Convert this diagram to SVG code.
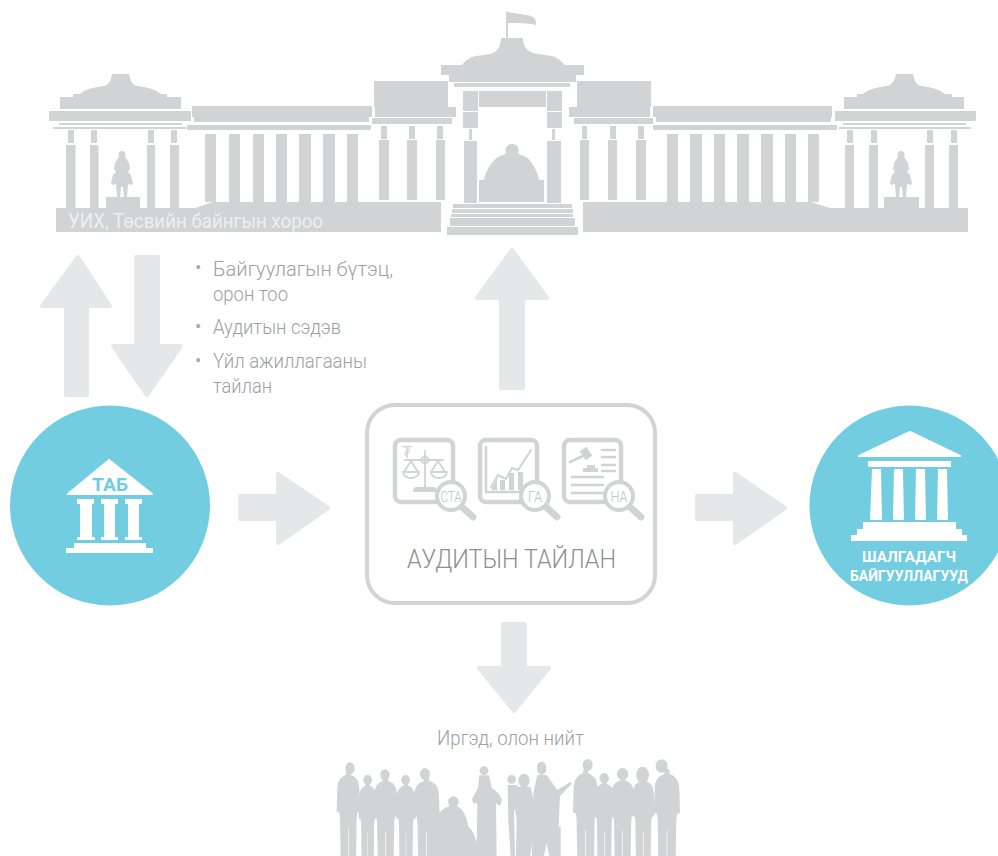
<svg xmlns="http://www.w3.org/2000/svg" xmlns:xlink="http://www.w3.org/1999/xlink" width="998" height="856" viewBox="0 0 998 856">
<style>
text{font-family:Roboto,"Liberation Sans","DejaVu Sans",sans-serif}
.g{fill:#d1d3d4}
.arrow{fill:#e6e7e8;stroke:#e6e7e8;stroke-width:4;stroke-linejoin:round}
.circ{fill:#72cde0}
.w{fill:#fff}
.t{font-weight:300;font-size:19.5px;fill:#9d9fa2}
.b{font-weight:400;font-size:19px;fill:#a7a9ac}
.ws{font-weight:700;font-size:14.5px;fill:#fff;text-anchor:middle}
.ic{fill:none;stroke:#d1d3d4;stroke-width:4.5}
.ln{fill:none;stroke:#d1d3d4;stroke-width:2.5;stroke-linecap:round}
.mg{fill:#fff;stroke:#d1d3d4;stroke-width:4}
.hd{fill:none;stroke:#d1d3d4;stroke-width:7;stroke-linecap:round}
.mt{font-weight:300;font-size:15px;fill:#bcbec0;text-anchor:middle}
</style>
<defs>
<g id="statue" class="g">
<circle cx="0" cy="154.500" r="3.500"/>
<path d="M-3,157 L3,157 L7,163 L8,169 L6,172 L9,175 L11,183 L10,185 L6,184 L5,197 L2,197 L1,187 L-1,187 L-2,197 L-5,197 L-6,184 L-10,185 L-11,183 L-9,175 L-6,172 L-8,169 L-7,163Z"/>
</g>
<path id="person" d="M-6,-24 L-8,-8 C-25,-2 -35,10 -36,40 L-38,115 L-29,118 L-27,140 L-25,280 L-1,280 L-1,170 L1,170 L1,280 L25,280 L27,140 L29,118 L38,115 L36,40 C35,10 25,-2 8,-8 L6,-24Z"/>
</defs>

<g id="palace" class="g">
<path d="M60,109V97H73V94H80C86,89 95,87 104,86C109,85 111,80 112,74H129C130,80 132,85 137,86C146,87 155,89 161,94H167V97H181V109Z"/>
<rect x="49" y="111" width="142" height="10"/>
<rect x="59" y="123" width="123" height="2"/>
<rect x="53" y="127" width="133" height="2"/>
<path d="M68,130h6v13h-6zM91,130h6v13h-6zM148,130h6v13h-6zM171,130h6v13h-6z"/>
<path d="M66,145h9.500v63h-9.500zM90,145h8.500v63h-8.500zM147,145h8v63h-8zM170,145h9v63h-9z"/>
<use xlink:href="#statue" href="#statue" x="122"/>
<rect x="106" y="197" width="34" height="11"/>
<path d="M56,208H195L213,202H441V232H56Z"/>
<path d="M192,106H372V117H369V122H194V117H192Z"/>
<rect x="187" y="125" width="184" height="5"/>
<path d="M205,134h11v68h-11zM229,134h11v68h-11zM253,134h11v68h-11zM276,134h11v68h-11zM299,134h12v68h-12zM323,134h12v68h-12zM347,134h11v68h-11z"/>
<path d="M374,81H448V107H456V117H375V107H374Z"/>
<rect x="372" y="118" width="80" height="6"/>
<path d="M381,126h6v13h-6zM409,126h6v13h-6zM437,126h6v13h-6z"/>
<path d="M379,140h10v60h-10zM407,140h10v60h-10zM436,140h9v60h-9z"/>
<path d="M506,38V11L508,12C516,14 528,14 533,17C536,19 536,22 536,25C527,23 516,23 508,23V38H523C523,44 525,50 533,53C543,55 552,55 557,58C560,60 562,62 565,65H584V75H576V82H449V75H441V65H462C465,61 468,59 472,57C480,55 488,55 493,53C499,50 501,44 501,38Z"/>
<rect x="454" y="83" width="116" height="4"/>
<path d="M463,91h15v20h-15zM463,112h15v16h-15zM547,91h15v20h-15zM547,112h15v16h-15zM479,91h67v16h-67z"/>
<path d="M469,129h3v11h-3zM552,129h3v11h-3z"/>
<path d="M464,141h13v62h-13zM547,141h14v62h-14z"/>
<path d="M479,180H484C486,170 492,161 498,157C502,155 505,155 506,153C504,147 508,144 512,144C516,144 520,147 518,153C519,155 522,155 526,157C532,161 537,170 539,180H544V202H479Z"/>
<path d="M453,204h119v4h-119zM452,209h121v4h-121zM451,214h122v3h-122zM450,218h125v8h-125zM447,227h131v8h-131z"/>
<path d="M577,81H651V107H650V117H569V107H577Z"/>
<rect x="574" y="118" width="79" height="6"/>
<path d="M582,126h5v13h-5zM610,126h6v13h-6zM638,126h6v13h-6z"/>
<path d="M580,140h9v60h-9zM608,140h9v60h-9zM636,140h10v60h-10z"/>
<path d="M653,106H832V117H831V122H656V117H653Z"/>
<rect x="653" y="125" width="184" height="5"/>
<path d="M667,134h11v68h-11zM690,134h12v68h-12zM714,134h11v68h-11zM737,134h12v68h-12zM761,134h12v68h-12zM785,134h11v68h-11zM808,134h11v68h-11z"/>
<path d="M583,202H811L830,208H968V232H583Z"/>
<path d="M844,109V97H857V94H863C869,89 878,87 887,86C892,85 895,80 896,74H913C914,80 916,85 921,86C930,87 939,89 945,94H952V97H964V109Z"/>
<rect x="835" y="111" width="141" height="10"/>
<rect x="843" y="123" width="123" height="2"/>
<rect x="839" y="127" width="132" height="2"/>
<path d="M847,130h6v13h-6zM871,130h6v13h-6zM927,130h6v13h-6zM951,130h6v13h-6z"/>
<path d="M845,145h9v63h-9zM869,145h9v63h-9zM925,145h9v63h-9zM949,145h9v63h-9z"/>
<use xlink:href="#statue" href="#statue" x="901"/>
<rect x="884" y="197" width="35" height="11"/>
</g>
<text x="68" y="228" font-size="20" font-weight="400" fill="#eeeff0" textLength="255" lengthAdjust="spacingAndGlyphs">УИХ, Төсвийн байнгын хороо</text>

<g id="connectors">
<path class="arrow" d="M78,257L110,306H87V395H66V306H42Z"/>
<path class="arrow" d="M136,257H158V346H181L147,395L113,346H136Z"/>
<path class="arrow" d="M512,250L547,298H523V388H501V298H477Z"/>
<path class="arrow" d="M240,496H278V474L328,508L278,543V519H240Z"/>
<path class="arrow" d="M697,496H735V474L785,508L735,543V519H697Z"/>
<path class="arrow" d="M503,624H525V668H549L514,711L479,668H503Z"/>
</g>

<g id="bullets">
<text class="b" x="195" y="274">•</text>
<text class="t" x="213" y="276" textLength="180" lengthAdjust="spacingAndGlyphs">Байгуулагын бүтэц,</text>
<text class="t" x="213" y="301" textLength="75" lengthAdjust="spacingAndGlyphs">орон тоо</text>
<text class="b" x="195" y="333">•</text>
<text class="t" x="213" y="334" textLength="128" lengthAdjust="spacingAndGlyphs">Аудитын сэдэв</text>
<text class="b" x="195" y="367">•</text>
<text class="t" x="213" y="368" textLength="154" lengthAdjust="spacingAndGlyphs">Үйл ажиллагааны</text>
<text class="t" x="213" y="393" textLength="59" lengthAdjust="spacingAndGlyphs">тайлан</text>
</g>

<g id="tab">
<circle class="circ" cx="110" cy="505.500" r="100"/>
<path class="w" stroke="#fff" stroke-width="2" stroke-linejoin="round" d="M109,460L152,494H68Z"/>
<text x="110" y="491" font-size="18" font-weight="700" fill="#72cde0" text-anchor="middle" textLength="36" lengthAdjust="spacingAndGlyphs">ТАБ</text>
<g class="w">
<path d="M77,499h17v5h-2v33h3v3h-18v-3h3v-33h-3zM101,499h17v5h-3v33h3v3h-17v-3h3v-33h-3zM125,499h17v5h-3v33h3v3h-17v-3h3v-33h-3z"/>
<path d="M74,543h72v5h7v5h-87v-5h8z"/>
</g>
</g>

<g id="audit">
<rect x="367" y="405" width="288" height="198" rx="28" fill="#fff" stroke="#d1d3d4" stroke-width="4"/>
<rect class="ic" x="395" y="440" width="58" height="62" rx="6"/>
<rect class="ic" x="480" y="440" width="57" height="62" rx="6"/>
<rect class="ic" x="564" y="440" width="57" height="62" rx="6"/>
<text x="407" y="458" font-size="15" fill="#d1d3d4" text-anchor="middle" style="font-family:'DejaVu Sans',sans-serif">₮</text>
<g class="ln" style="stroke-width:1.800">
<path d="M425,451V488M405,460H443M411,461L404,472M411,461L418,472M438,461L431,472M438,461L445,472"/>
<path d="M403,472H419A8,6 0 0 1 403,472ZM431,472H447A8,6 0 0 1 431,472Z"/>
<circle cx="425" cy="460" r="3.500"/>
</g>
<path class="g" d="M416,487H434C436,487 437,489 437,492H413C413,489 414,487 416,487Z"/>
<path class="ln" d="M486,447V492H530"/>
<path class="ln" d="M491,487L498,475L506,479L512,468L518,470L531,450" style="stroke-width:2"/>
<path class="g" d="M500,480h5v10h-5zM509,473h5v17h-5zM518,472h5v18h-5zM491,490L497,478V490Z"/>
<path class="ln" d="M570,462L585,455" style="stroke-width:3"/>
<path class="ln" d="M583,449L589,458" style="stroke-width:8;stroke-linecap:butt"/>
<path class="g" d="M587,465h8v3h-8zM583,468h15v4h-15z"/>
<path class="ln" d="M602,450H615M602,457H615M602,465H615M602,471H615M572,477H603M572,485H603M572,493H603"/>
<path class="hd" d="M462,507L473,517M546,507L557,517M630,507L641,517"/>
<circle class="mg" cx="451" cy="496" r="14"/>
<circle class="mg" cx="535" cy="496" r="14"/>
<circle class="mg" cx="619" cy="496" r="14"/>
<text class="mt" x="451" y="501.500" textLength="21" lengthAdjust="spacingAndGlyphs">СТА</text>
<text class="mt" x="535" y="501.500" textLength="14" lengthAdjust="spacingAndGlyphs">ГА</text>
<text class="mt" x="619" y="501.500" textLength="17" lengthAdjust="spacingAndGlyphs">НА</text>
<text x="407" y="568" font-size="25" font-weight="300" fill="#8d8f92" textLength="209" lengthAdjust="spacingAndGlyphs">АУДИТЫН ТАЙЛАН</text>
</g>

<g id="auditees">
<circle class="circ" cx="909.500" cy="505.500" r="100"/>
<g class="w">
<path stroke="#fff" stroke-width="2" stroke-linejoin="round" d="M910,432L960,456H859Z"/>
<rect x="868" y="461" width="83" height="6"/>
<path d="M872,469h9l1,51h-12zM894,469h9l1,51h-11zM916,469h9l1,51h-11zM938,469h9l1,51h-11z"/>
<path d="M863,522h93v7h6v6h5v6h-116v-6h6v-6h6z"/>
</g>
<text class="ws" x="909" y="562" textLength="94" lengthAdjust="spacingAndGlyphs">ШАЛГАДАГЧ</text>
<text class="ws" x="909" y="581" textLength="118" lengthAdjust="spacingAndGlyphs">БАЙГУУЛЛАГУУД</text>
</g>

<text class="t" x="437" y="745" textLength="147" lengthAdjust="spacingAndGlyphs">Иргэд, олон нийт</text>

<g id="citizens" class="g" transform="translate(320 720) scale(.3333)">
<ellipse cx="90" cy="145" rx="14" ry="18"/><use href="#person" xlink:href="#person" transform="translate(85 172) scale(.92 .9)"/>
<ellipse cx="143" cy="180" rx="13" ry="15"/><use href="#person" xlink:href="#person" transform="translate(143 203) scale(.72 .8)"/>
<ellipse cx="195" cy="165" rx="14" ry="17"/><use href="#person" xlink:href="#person" transform="translate(197 190) scale(.95 .85)"/>
<ellipse cx="257" cy="180" rx="13" ry="15"/><use href="#person" xlink:href="#person" transform="translate(258 203) scale(.78 .8)"/>
<ellipse cx="315" cy="162" rx="15" ry="18"/><use href="#person" xlink:href="#person" transform="translate(320 190) scale(1.02 .85)"/>
<circle cx="400" cy="245" r="16"/><path d="M345,408V290C365,270 385,255 400,255C425,258 440,285 445,320C462,330 475,370 475,408Z"/>
<circle cx="492" cy="152" r="13"/><path d="M478,166H507L516,205C530,212 540,225 546,240L540,258L528,250L530,408H470L472,250L460,250L456,238C462,225 470,212 474,205Z"/>
<circle cx="575" cy="178" r="13"/><path d="M563,195H592L598,260L582,270L585,408H572L565,300Z"/>
<ellipse cx="612" cy="182" rx="17" ry="21"/><path d="M592,200H632L650,290L645,330L630,408H588L590,300L578,220Z"/>
<ellipse cx="665" cy="145" rx="14" ry="20"/><path d="M652,165H680L712,210L752,185L755,192L720,228L716,320H722L722,408H688L680,370L672,408H636L640,220Z"/>
<ellipse cx="803" cy="135" rx="15" ry="18"/><use href="#person" xlink:href="#person" transform="translate(797 168) scale(1 .95)"/>
<ellipse cx="853" cy="175" rx="14" ry="16"/><use href="#person" xlink:href="#person" transform="translate(853 198) scale(.82 .8)"/>
<ellipse cx="908" cy="162" rx="17" ry="18"/><use href="#person" xlink:href="#person" transform="translate(908 188) scale(.95 .85)"/>
<ellipse cx="968" cy="165" rx="19" ry="25"/><use href="#person" xlink:href="#person" transform="translate(970 190) scale(.88 .85)"/>
<ellipse cx="1025" cy="138" rx="18" ry="20"/><use href="#person" xlink:href="#person" transform="translate(1041 170) scale(1.03 .95)"/>
</g>
</svg>
